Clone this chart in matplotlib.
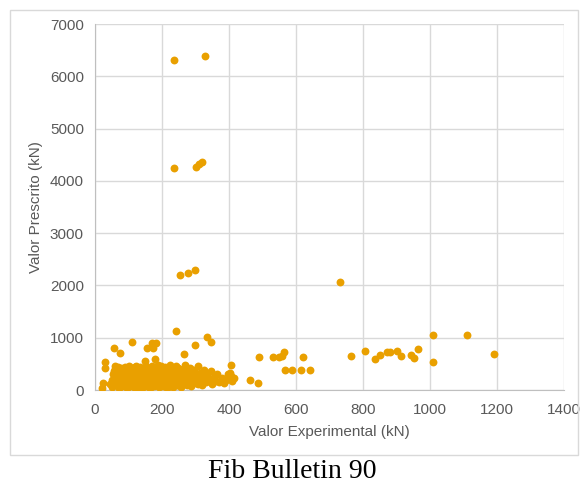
import matplotlib
matplotlib.use("Agg")
import matplotlib.pyplot as plt
from matplotlib.patches import Rectangle

# puntos dispersos (fuera de la nube principal)
outliers = [
    (237, 6320), (327, 6390), (237, 4250), (300, 4270), (310, 4320), (320, 4360),
    (255, 2200), (278, 2230), (298, 2290), (730, 2060), (242, 1128), (334, 1013),
    (346, 918), (110, 918), (170, 900), (182, 900), (173, 800), (155, 810),
    (57, 800), (75, 700), (299, 860), (266, 690), (30, 535), (30, 420), (24, 130),
    (20, 30), (60, 460), (406, 480), (403, 325), (415, 230), (463, 190), (487, 134),
    (490, 630), (531, 640), (548, 640), (557, 650), (564, 725), (567, 382),
    (588, 382), (615, 382), (642, 382), (621, 630), (764, 650), (806, 745),
    (836, 595), (851, 670), (872, 725), (881, 725), (901, 750), (913, 650),
    (943, 670), (952, 610), (964, 785), (1009, 1052), (1110, 1050), (1191, 690),
    (1009, 535), (150, 560), (178, 590),
]

# nube principal de ensayos
nube = [
    (45, 120), (50, 60), (52, 200), (55, 300), (58, 150), (60, 410), (62, 90), (65, 250), (68, 350), (70, 180),
    (72, 40), (74, 300), (75, 120), (78, 420), (80, 220), (82, 70), (84, 330), (85, 160), (88, 260), (90, 440),
    (92, 100), (94, 380), (95, 200), (97, 30), (98, 310), (100, 150), (102, 460), (104, 240), (105, 80), (107, 350),
    (108, 190), (110, 420), (112, 120), (113, 280), (115, 50), (116, 400), (118, 230), (120, 330), (121, 140), (123, 460),
    (125, 90), (126, 260), (128, 370), (130, 170), (131, 40), (133, 300), (135, 440), (136, 210), (138, 110), (140, 350),
    (141, 270), (143, 60), (145, 400), (146, 190), (148, 320), (150, 130), (151, 240), (153, 450), (155, 80), (156, 290),
    (158, 370), (160, 160), (161, 220), (163, 30), (165, 330), (166, 420), (168, 110), (170, 260), (171, 190), (173, 380),
    (175, 70), (176, 300), (178, 440), (180, 150), (181, 230), (183, 350), (185, 100), (186, 280), (188, 410), (190, 180),
    (191, 50), (193, 320), (195, 240), (196, 130), (198, 390), (200, 200), (201, 290), (203, 80), (205, 350), (206, 160),
    (208, 440), (210, 260), (211, 110), (213, 310), (215, 40), (216, 200), (218, 380), (220, 140), (221, 270), (223, 330),
    (225, 90), (226, 230), (228, 420), (230, 170), (231, 300), (233, 60), (235, 360), (236, 210), (238, 120), (240, 280),
    (242, 460), (244, 190), (246, 340), (248, 90), (250, 250), (252, 400), (254, 150), (256, 310), (258, 60), (260, 220),
    (262, 370), (265, 130), (268, 290), (270, 480), (272, 200), (275, 100), (278, 340), (280, 250), (283, 160), (285, 420),
    (288, 70), (290, 300), (293, 200), (296, 380), (300, 130), (303, 260), (306, 450), (310, 180), (314, 330), (318, 90),
    (322, 240), (326, 390), (330, 150), (335, 290), (340, 210), (345, 360), (350, 120), (355, 250), (360, 180), (365, 310),
    (370, 160), (378, 230), (385, 140), (392, 200), (398, 300), (405, 260), (410, 180),
    (62, 330), (66, 200), (70, 440), (76, 260), (86, 380), (96, 90), (99, 420), (106, 300), (114, 180), (119, 440),
    (124, 210), (129, 100), (134, 390), (139, 160), (144, 250), (149, 420), (154, 180), (159, 300), (164, 90), (169, 450),
    (174, 230), (179, 330), (184, 200), (189, 470), (194, 100), (199, 330), (204, 270), (209, 170), (214, 400), (219, 220),
    (224, 470), (229, 130), (234, 250), (239, 380), (244, 100), (249, 330), (189, 260), (142, 320), (117, 80), (87, 130),
    (73, 210), (57, 370), (66, 120), (93, 160), (111, 250), (127, 330), (137, 60), (157, 240), (167, 140), (177, 380),
    (187, 330), (197, 460), (207, 200), (217, 90), (227, 360), (237, 180), (247, 420), (257, 270), (267, 210), (277, 390),
    (287, 180), (297, 320), (307, 110),
]

xticks = [0, 200, 400, 600, 800, 1000, 1200, 1400]
yticks = [0, 1000, 2000, 3000, 4000, 5000, 6000, 7000]

puntos = nube + outliers
x_exp = [p[0] for p in puntos]
y_pre = [p[1] for p in puntos]

gris_texto = "#595959"
gris_linea = "#D9D9D9"
naranja = "#E9A000"

fig = plt.figure(figsize=(5.84, 4.88), dpi=100)
# marco del grafico
fig.patches.append(Rectangle((10 / 584, 33 / 488), 568 / 584, 445 / 488,
                             transform=fig.transFigure, fill=False,
                             edgecolor=gris_linea, linewidth=1))

ax = fig.add_axes([95 / 584, 98 / 488, 469 / 584, 366 / 488])
ax.scatter(x_exp, y_pre, s=32, color=naranja, linewidths=0, zorder=3)

ax.set_xlim(0, 1400)
ax.set_ylim(0, 7000)
ax.set_xticks(xticks)
ax.set_yticks(yticks)
ax.grid(True, color=gris_linea, linewidth=1)
ax.set_axisbelow(True)
for lado in ["top", "right"]:
    ax.spines[lado].set_visible(False)
for lado in ["left", "bottom"]:
    ax.spines[lado].set_color("#BFBFBF")
ax.tick_params(length=0, labelsize=11, labelcolor=gris_texto, pad=9)
ax.tick_params(axis="y", pad=8)
for lbl in ax.get_xticklabels() + ax.get_yticklabels():
    lbl.set_family("Liberation Sans")

ax.set_xlabel("Valor Experimental (kN)", fontsize=11, color=gris_texto,
              family="Liberation Sans", labelpad=6)
ax.set_ylabel("Valor Prescrito (kN)", fontsize=11, color=gris_texto,
              family="Liberation Sans", labelpad=5)

fig.text(292 / 584, 16 / 488, "Fib Bulletin 90", ha="center", va="center",
         fontsize=20, family="Liberation Serif")

fig.savefig("out.png", dpi=100)
